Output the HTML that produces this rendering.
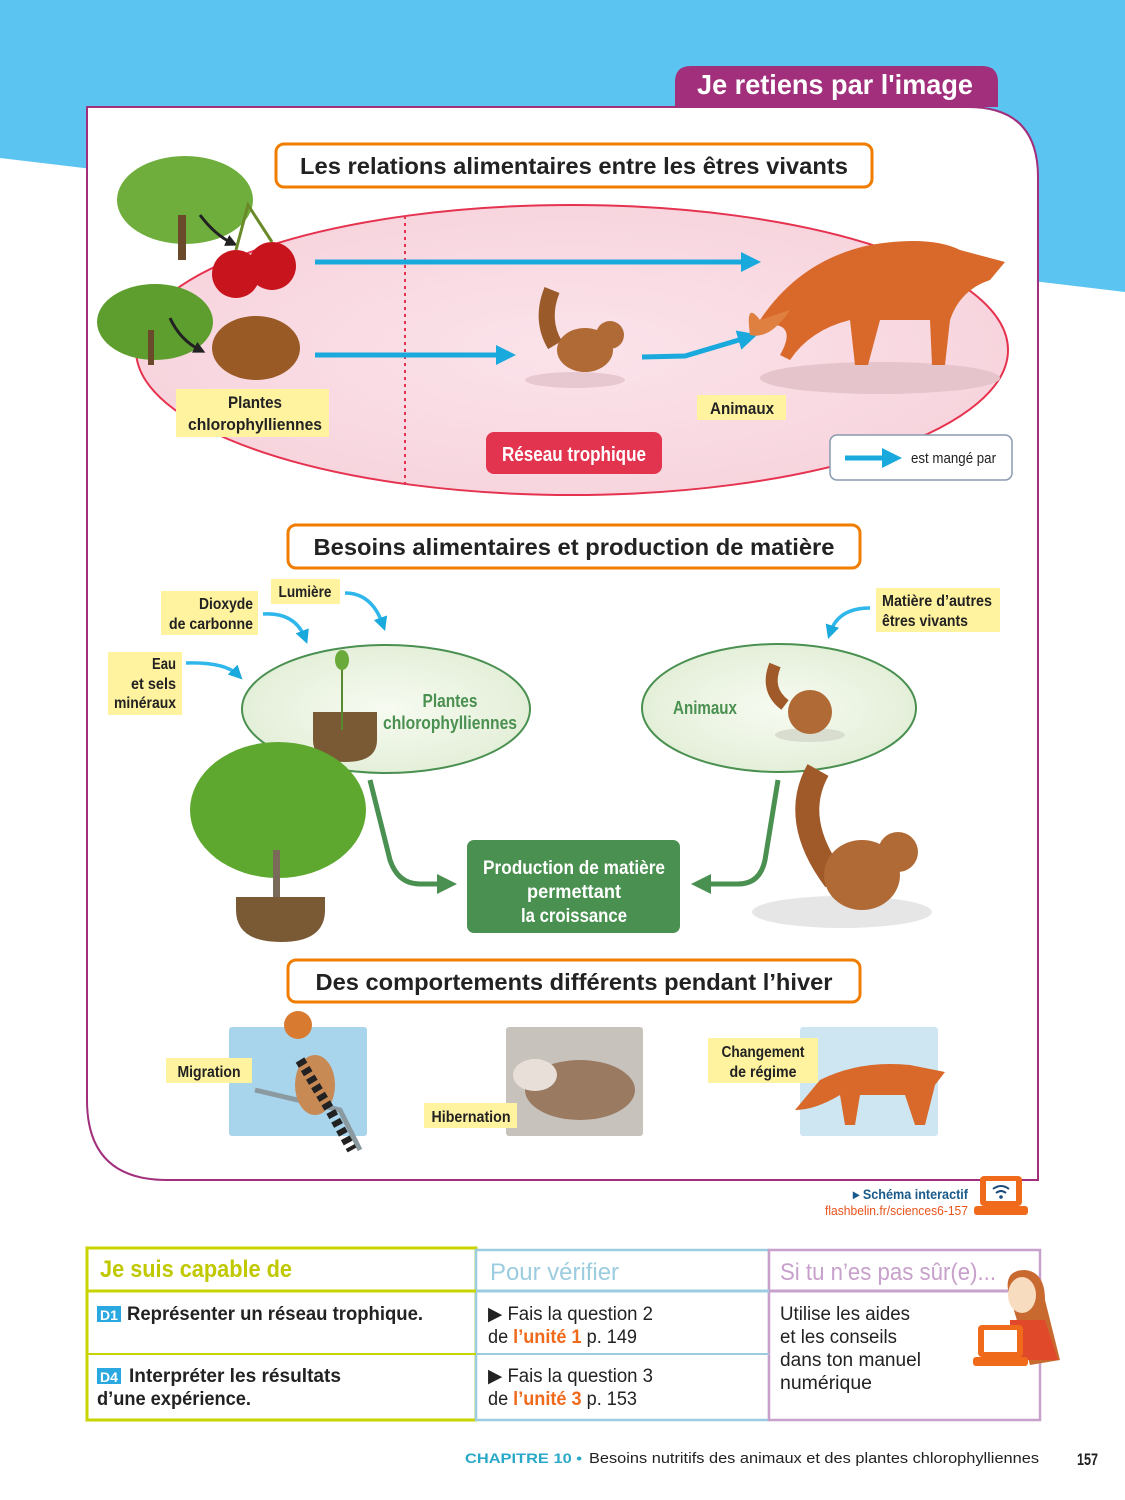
<!DOCTYPE html>
<html><head><meta charset="utf-8">
<style>
html,body{margin:0;padding:0;background:#fff;}
svg{display:block;}
text{font-family:"Liberation Sans Narrow","Liberation Sans",sans-serif;}
.b{font-weight:bold;}
</style></head><body>
<svg width="1125" height="1500" viewBox="0 0 1125 1500" xmlns="http://www.w3.org/2000/svg">
<defs>
<marker id="ab" markerWidth="4" markerHeight="4" refX="2.2" refY="2" orient="auto" markerUnits="strokeWidth"><path d="M0,0 L4,2 L0,4 z" fill="#1aa9dc"/></marker>
<marker id="ag" markerWidth="4" markerHeight="4" refX="2.2" refY="2" orient="auto" markerUnits="strokeWidth"><path d="M0,0 L4,2 L0,4 z" fill="#4a9050"/></marker>
<marker id="ak" markerWidth="4" markerHeight="4" refX="2" refY="2" orient="auto" markerUnits="strokeWidth"><path d="M0,0 L4,2 L0,4 z" fill="#222"/></marker>
<radialGradient id="pk" cx="0.5" cy="0.5" r="0.5"><stop offset="0" stop-color="#fbe3ea"/><stop offset="1" stop-color="#f8d5de"/></radialGradient>
<radialGradient id="gr" cx="0.5" cy="0.5" r="0.5"><stop offset="0" stop-color="#f7fbf1"/><stop offset="1" stop-color="#e4efd9"/></radialGradient>
</defs>
<polygon points="0,0 1125,0 1125,292 0,158" fill="#5bc4f1"/>
<path d="M675,107 L675,82 Q675,66 691,66 L982,66 Q998,66 998,82 L998,107 Z" fill="#a12f7c"/>
<text x="835" y="94" text-anchor="middle" class="b" font-size="28" fill="#fff" textLength="276" lengthAdjust="spacingAndGlyphs">Je retiens par l'image</text>
<path d="M87,107 L968,107 Q1038,107 1038,177 L1038,1180 L167,1180 Q87,1180 87,1100 Z" fill="#fff" stroke="#a12f7c" stroke-width="2"/>
<!-- section 1 -->
<rect x="276" y="144" width="596" height="43" rx="8" fill="#fff" stroke="#f07d00" stroke-width="3"/>
<text x="574" y="174" text-anchor="middle" class="b" font-size="23" fill="#222" textLength="548" lengthAdjust="spacingAndGlyphs">Les relations alimentaires entre les êtres vivants</text>
<ellipse cx="572" cy="350" rx="436" ry="145" fill="url(#pk)" stroke="#e5334f" stroke-width="2"/>
<line x1="405" y1="216" x2="405" y2="488" stroke="#e5334f" stroke-width="2" stroke-dasharray="3,4"/>
<ellipse cx="185" cy="200" rx="68" ry="44" fill="#6fae3c"/>
<rect x="178" y="215" width="8" height="45" fill="#6b4a2b"/>
<ellipse cx="155" cy="322" rx="58" ry="38" fill="#5e9e2e"/>
<rect x="148" y="330" width="6" height="35" fill="#6b4a2b"/>
<path d="M200,215 Q215,235 232,243" fill="none" stroke="#222" stroke-width="3" marker-end="url(#ak)"/>
<path d="M170,318 Q180,340 200,350" fill="none" stroke="#222" stroke-width="3" marker-end="url(#ak)"/>
<circle cx="236" cy="274" r="24" fill="#c8141c"/><circle cx="272" cy="266" r="24" fill="#c8141c"/>
<path d="M236,250 L248,205 L272,242" fill="none" stroke="#6a8a2a" stroke-width="3"/>
<ellipse cx="256" cy="348" rx="44" ry="32" fill="#9a5a25"/>
<line x1="315" y1="262" x2="752" y2="262" stroke="#1aa9dc" stroke-width="5" marker-end="url(#ab)"/>
<line x1="315" y1="355" x2="507" y2="355" stroke="#1aa9dc" stroke-width="5" marker-end="url(#ab)"/>
<path d="M642,357 L685,356 L749,337" fill="none" stroke="#1aa9dc" stroke-width="5" marker-end="url(#ab)"/>
<ellipse cx="575" cy="380" rx="50" ry="8" fill="#e8c8d0"/>
<path d="M552,290 Q540,320 555,345" stroke="#9a5a2a" stroke-width="16" fill="none"/>
<ellipse cx="585" cy="350" rx="28" ry="22" fill="#b06a35"/>
<circle cx="610" cy="335" r="14" fill="#b06a35"/>
<ellipse cx="880" cy="378" rx="120" ry="16" fill="#e6c4cc"/>
<path d="M760,320 Q800,260 870,245 Q930,235 960,250 L1005,262 L990,280 Q960,290 950,320 L945,365 L932,365 L930,320 L880,320 L868,365 L855,365 L850,320 Q810,330 790,360 L780,355 Q800,320 760,325 Z" fill="#d9692a"/>
<path d="M760,320 Q745,300 750,335 Q770,340 790,310" fill="#e08040"/>
<rect x="176" y="389" width="153" height="48" fill="#fff3a0"/>
<text x="255" y="408" text-anchor="middle" class="b" font-size="17" fill="#222" textLength="54" lengthAdjust="spacingAndGlyphs">Plantes</text>
<text x="255" y="430" text-anchor="middle" class="b" font-size="17" fill="#222" textLength="134" lengthAdjust="spacingAndGlyphs">chlorophylliennes</text>
<rect x="697" y="395" width="89" height="25" fill="#fff3a0"/>
<text x="742" y="414" text-anchor="middle" class="b" font-size="17" fill="#222" textLength="64" lengthAdjust="spacingAndGlyphs">Animaux</text>
<rect x="486" y="432" width="176" height="42" rx="8" fill="#e2344e"/>
<text x="574" y="461" text-anchor="middle" class="b" font-size="20" fill="#fff" textLength="144" lengthAdjust="spacingAndGlyphs">Réseau trophique</text>
<rect x="830" y="435" width="182" height="45" rx="7" fill="#fff" stroke="#8a9ab0" stroke-width="1.5"/>
<line x1="845" y1="458" x2="893" y2="458" stroke="#1aa9dc" stroke-width="5" marker-end="url(#ab)"/>
<text x="911" y="463" font-size="15" fill="#222" textLength="85" lengthAdjust="spacingAndGlyphs">est mangé par</text>
<!-- section 2 -->
<rect x="288" y="525" width="572" height="43" rx="8" fill="#fff" stroke="#f07d00" stroke-width="3"/>
<text x="574" y="555" text-anchor="middle" class="b" font-size="23" fill="#222" textLength="521" lengthAdjust="spacingAndGlyphs">Besoins alimentaires et production de matière</text>
<ellipse cx="386" cy="709" rx="144" ry="64" fill="url(#gr)" stroke="#4a9050" stroke-width="2"/>
<ellipse cx="779" cy="708" rx="137" ry="64" fill="url(#gr)" stroke="#4a9050" stroke-width="2"/>
<path d="M313,712 L377,712 L377,740 Q377,762 345,762 Q313,762 313,740 Z" fill="#7a5a35"/>
<line x1="342" y1="660" x2="342" y2="730" stroke="#5a8a30" stroke-width="2"/>
<ellipse cx="342" cy="660" rx="7" ry="10" fill="#6aaa3a"/>
<text x="450" y="707" text-anchor="middle" class="b" font-size="18" fill="#4a9050" textLength="55" lengthAdjust="spacingAndGlyphs">Plantes</text>
<text x="450" y="729" text-anchor="middle" class="b" font-size="18" fill="#4a9050" textLength="134" lengthAdjust="spacingAndGlyphs">chlorophylliennes</text>
<text x="705" y="714" text-anchor="middle" class="b" font-size="18" fill="#4a9050" textLength="64" lengthAdjust="spacingAndGlyphs">Animaux</text>
<ellipse cx="810" cy="735" rx="35" ry="7" fill="#d8ddd0"/>
<path d="M775,665 Q765,690 785,705" stroke="#a05a2a" stroke-width="12" fill="none"/>
<ellipse cx="810" cy="712" rx="22" ry="22" fill="#b06a35"/>
<rect x="271" y="579" width="69" height="25" fill="#fff3a0"/>
<text x="305" y="597" text-anchor="middle" class="b" font-size="16" fill="#222" textLength="53" lengthAdjust="spacingAndGlyphs">Lumière</text>
<rect x="161" y="591" width="97" height="44" fill="#fff3a0"/>
<text x="253" y="609" text-anchor="end" class="b" font-size="16" fill="#222" textLength="54" lengthAdjust="spacingAndGlyphs">Dioxyde</text>
<text x="253" y="629" text-anchor="end" class="b" font-size="16" fill="#222" textLength="84" lengthAdjust="spacingAndGlyphs">de carbonne</text>
<rect x="108" y="652" width="74" height="63" fill="#fff3a0"/>
<text x="176" y="669" text-anchor="end" class="b" font-size="16" fill="#222" textLength="24" lengthAdjust="spacingAndGlyphs">Eau</text>
<text x="176" y="689" text-anchor="end" class="b" font-size="16" fill="#222" textLength="45" lengthAdjust="spacingAndGlyphs">et sels</text>
<text x="176" y="708" text-anchor="end" class="b" font-size="16" fill="#222" textLength="62" lengthAdjust="spacingAndGlyphs">minéraux</text>
<rect x="876" y="588" width="124" height="44" fill="#fff3a0"/>
<text x="882" y="606" class="b" font-size="16" fill="#222" textLength="110" lengthAdjust="spacingAndGlyphs">Matière d’autres</text>
<text x="882" y="626" class="b" font-size="16" fill="#222" textLength="86" lengthAdjust="spacingAndGlyphs">êtres vivants</text>
<path d="M345,593 Q372,593 383,625" fill="none" stroke="#2fb6ea" stroke-width="3.5" marker-end="url(#ab)"/>
<path d="M263,614 Q295,612 305,638" fill="none" stroke="#2fb6ea" stroke-width="3.5" marker-end="url(#ab)"/>
<path d="M186,663 Q225,662 238,675" fill="none" stroke="#2fb6ea" stroke-width="3.5" marker-end="url(#ab)"/>
<path d="M870,608 Q838,608 830,633" fill="none" stroke="#2fb6ea" stroke-width="3.5" marker-end="url(#ab)"/>
<ellipse cx="278" cy="810" rx="88" ry="68" fill="#5ea830"/>
<rect x="273" y="850" width="7" height="60" fill="#7a6a5a"/>
<path d="M236,897 L325,897 L325,910 Q325,942 281,942 Q236,942 236,910 Z" fill="#7a5a35"/>
<ellipse cx="842" cy="912" rx="90" ry="16" fill="#e6e6e6"/>
<path d="M818,770 Q790,820 835,880" stroke="#a05a2a" stroke-width="24" fill="none"/>
<ellipse cx="862" cy="875" rx="38" ry="35" fill="#b06a35"/>
<circle cx="898" cy="852" r="20" fill="#b06a35"/>
<path d="M370,780 L390,860 Q398,884 420,884 L448,884" fill="none" stroke="#4a9050" stroke-width="5" marker-end="url(#ag)"/>
<path d="M778,780 L765,860 Q760,884 738,884 L700,884" fill="none" stroke="#4a9050" stroke-width="5" marker-end="url(#ag)"/>
<rect x="467" y="840" width="213" height="93" rx="7" fill="#4a9050"/>
<text x="574" y="874" text-anchor="middle" class="b" font-size="19" fill="#fff" textLength="182" lengthAdjust="spacingAndGlyphs">Production de matière</text>
<text x="574" y="898" text-anchor="middle" class="b" font-size="19" fill="#fff" textLength="94" lengthAdjust="spacingAndGlyphs">permettant</text>
<text x="574" y="922" text-anchor="middle" class="b" font-size="19" fill="#fff" textLength="106" lengthAdjust="spacingAndGlyphs">la croissance</text>
<!-- section 3 -->
<rect x="288" y="960" width="572" height="42" rx="8" fill="#fff" stroke="#f07d00" stroke-width="3"/>
<text x="574" y="990" text-anchor="middle" class="b" font-size="23" fill="#222" textLength="517" lengthAdjust="spacingAndGlyphs">Des comportements différents pendant l’hiver</text>
<rect x="229" y="1027" width="138" height="109" rx="3" fill="#a8d4ec"/>
<path d="M255,1090 L340,1110 L360,1150" stroke="#8a9aa0" stroke-width="5" fill="none"/>
<ellipse cx="315" cy="1085" rx="20" ry="30" fill="#c88a55"/>
<path d="M300,1060 L330,1110 L352,1150" stroke="#222" stroke-width="10" fill="none" stroke-dasharray="6,4"/>
<circle cx="298" cy="1025" r="14" fill="#d87a30"/>
<rect x="506" y="1027" width="137" height="109" rx="3" fill="#c7c2bc"/>
<ellipse cx="580" cy="1090" rx="55" ry="30" fill="#9a7a60"/>
<ellipse cx="535" cy="1075" rx="22" ry="16" fill="#e8e0d8"/>
<rect x="800" y="1027" width="138" height="109" rx="3" fill="#cde6f2"/>
<path d="M820,1080 Q860,1060 910,1065 L945,1072 L935,1085 L925,1125 L915,1125 L905,1095 L860,1095 L855,1125 L845,1125 L840,1095 Q815,1110 795,1110 Z" fill="#d9692a"/>
<rect x="166" y="1058" width="86" height="25" fill="#fff3a0"/>
<text x="209" y="1077" text-anchor="middle" class="b" font-size="16" fill="#222" textLength="63" lengthAdjust="spacingAndGlyphs">Migration</text>
<rect x="424" y="1103" width="93" height="25" fill="#fff3a0"/>
<text x="471" y="1122" text-anchor="middle" class="b" font-size="16" fill="#222" textLength="79" lengthAdjust="spacingAndGlyphs">Hibernation</text>
<rect x="708" y="1038" width="110" height="45" fill="#fff3a0"/>
<text x="763" y="1057" text-anchor="middle" class="b" font-size="16" fill="#222" textLength="83" lengthAdjust="spacingAndGlyphs">Changement</text>
<text x="763" y="1077" text-anchor="middle" class="b" font-size="16" fill="#222" textLength="67" lengthAdjust="spacingAndGlyphs">de régime</text>
<!-- interactive -->
<text x="968" y="1199" text-anchor="end" class="b" font-size="14" fill="#1a5a8a" textLength="115" lengthAdjust="spacingAndGlyphs">▸ Schéma interactif</text>
<text x="968" y="1215" text-anchor="end" font-size="13" fill="#e8541c" textLength="143" lengthAdjust="spacingAndGlyphs">flashbelin.fr/sciences6-157</text>
<rect x="980" y="1176" width="42" height="30" rx="4" fill="#f06a1c"/>
<rect x="986" y="1181" width="30" height="20" fill="#fff"/>
<rect x="974" y="1206" width="54" height="9" rx="3" fill="#f06a1c"/>
<path d="M993,1189 Q1001,1183 1009,1189 M996,1193 Q1001,1189 1006,1193" stroke="#1a4a7a" stroke-width="2" fill="none"/>
<circle cx="1001" cy="1197" r="1.8" fill="#1a4a7a"/>
<!-- table -->
<rect x="87" y="1248" width="389" height="172" fill="#fff" stroke="#c8d400" stroke-width="3"/>
<rect x="476" y="1250" width="293" height="170" fill="#fff" stroke="#9ccce0" stroke-width="2.5"/>
<rect x="769" y="1250" width="271" height="170" fill="#fff" stroke="#c8a0cc" stroke-width="2.5"/>
<line x1="87" y1="1291" x2="476" y2="1291" stroke="#c8d400" stroke-width="3"/>
<line x1="87" y1="1354" x2="476" y2="1354" stroke="#c8d400" stroke-width="2"/>
<line x1="476" y1="1291" x2="769" y2="1291" stroke="#9ccce0" stroke-width="3"/>
<line x1="476" y1="1354" x2="769" y2="1354" stroke="#9ccce0" stroke-width="2"/>
<line x1="769" y1="1291" x2="1040" y2="1291" stroke="#c8a0cc" stroke-width="3"/>
<text x="100" y="1277" class="b" font-size="24" fill="#c0c800" textLength="192" lengthAdjust="spacingAndGlyphs">Je suis capable de</text>
<text x="490" y="1280" font-size="24" fill="#9ccce0" textLength="129" lengthAdjust="spacingAndGlyphs">Pour vérifier</text>
<text x="780" y="1280" font-size="24" fill="#c8a0cc" textLength="216" lengthAdjust="spacingAndGlyphs">Si tu n’es pas sûr(e)...</text>
<rect x="97" y="1306" width="24" height="16" fill="#2aa8e0"/>
<text x="109" y="1320" text-anchor="middle" class="b" font-size="14" fill="#fff">D1</text>
<text x="127" y="1320" class="b" font-size="19" fill="#222" textLength="296" lengthAdjust="spacingAndGlyphs">Représenter un réseau trophique.</text>
<rect x="97" y="1368" width="24" height="16" fill="#2aa8e0"/>
<text x="109" y="1382" text-anchor="middle" class="b" font-size="14" fill="#fff">D4</text>
<text x="129" y="1382" class="b" font-size="19" fill="#222" textLength="212" lengthAdjust="spacingAndGlyphs">Interpréter les résultats</text>
<text x="97" y="1405" class="b" font-size="19" fill="#222" textLength="154" lengthAdjust="spacingAndGlyphs">d’une expérience.</text>
<text x="488" y="1320" font-size="19" fill="#222" textLength="165" lengthAdjust="spacingAndGlyphs">▶ Fais la question 2</text>
<text x="488" y="1343" font-size="19" fill="#222" textLength="149" lengthAdjust="spacingAndGlyphs">de <tspan fill="#f06a1c" font-weight="bold">l’unité 1</tspan> p. 149</text>
<text x="488" y="1382" font-size="19" fill="#222" textLength="165" lengthAdjust="spacingAndGlyphs">▶ Fais la question 3</text>
<text x="488" y="1405" font-size="19" fill="#222" textLength="149" lengthAdjust="spacingAndGlyphs">de <tspan fill="#f06a1c" font-weight="bold">l’unité 3</tspan> p. 153</text>
<text x="780" y="1320" font-size="19" fill="#222" textLength="130" lengthAdjust="spacingAndGlyphs">Utilise les aides</text>
<text x="780" y="1343" font-size="19" fill="#222" textLength="117" lengthAdjust="spacingAndGlyphs">et les conseils</text>
<text x="780" y="1366" font-size="19" fill="#222" textLength="141" lengthAdjust="spacingAndGlyphs">dans ton manuel</text>
<text x="780" y="1389" font-size="19" fill="#222" textLength="92" lengthAdjust="spacingAndGlyphs">numérique</text>
<path d="M1008,1290 Q1005,1270 1025,1270 Q1045,1272 1045,1300 L1060,1360 L1030,1365 Z" fill="#c86a30"/>
<ellipse cx="1022" cy="1295" rx="14" ry="18" fill="#f8dcc0"/>
<path d="M1010,1320 L1045,1320 L1058,1360 L1010,1360 Z" fill="#e04a2a"/>
<rect x="978" y="1325" width="45" height="32" rx="4" fill="#f06a1c"/>
<rect x="984" y="1330" width="33" height="22" fill="#fff"/>
<rect x="973" y="1357" width="55" height="9" rx="3" fill="#f06a1c"/>
<text x="465" y="1463" class="b" font-size="14" fill="#2aa8c8" textLength="117" lengthAdjust="spacingAndGlyphs">CHAPITRE 10 •</text>
<text x="589" y="1463" font-size="15" fill="#222" textLength="450" lengthAdjust="spacingAndGlyphs">Besoins nutritifs des animaux et des plantes chlorophylliennes</text>
<text x="1077" y="1465" class="b" font-size="17" fill="#222" textLength="21" lengthAdjust="spacingAndGlyphs">157</text>
</svg>
</body></html>
